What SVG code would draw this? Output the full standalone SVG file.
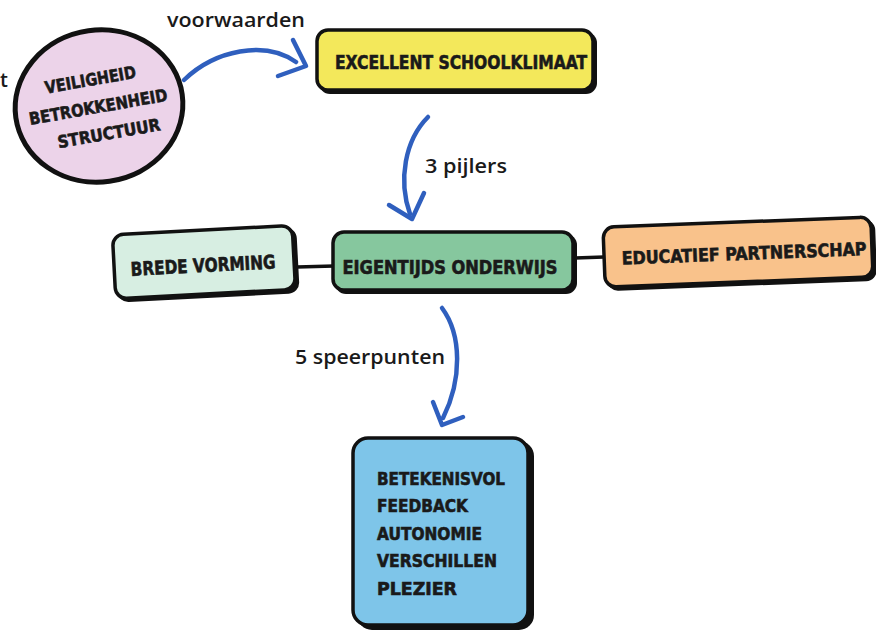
<svg xmlns="http://www.w3.org/2000/svg" width="876" height="632" viewBox="0 0 876 632">
<defs>
<style>
.box{stroke:#111;stroke-width:3.5}
.sh{fill:#111}
.cap{font-family:"DejaVu Sans Condensed","DejaVu Sans","Liberation Sans",sans-serif;font-weight:bold;fill:#1a1a1a;stroke:#1a1a1a;stroke-width:0.6}
.lbl{font-family:"Open Sans","Liberation Sans",sans-serif;font-weight:600;font-size:20px;fill:#1a1a1a}
.arr{fill:none;stroke:#2f5fbe;stroke-width:4.5;stroke-linecap:round;stroke-linejoin:round}
.ln{stroke:#111;stroke-width:3.5}
</style>
</defs>
<rect width="876" height="632" fill="#ffffff"/>
<text class="lbl" x="0" y="87" font-size="22" font-weight="400">t</text>
<g id="connectors">
<line class="ln" x1="297" y1="267" x2="334" y2="266"/>
<line class="ln" x1="575" y1="258" x2="604" y2="257"/>
<path class="arr" d="M184,80 C215,50 265,40 296,62"/>
<path class="arr" d="M293,40 L306,66 L278,76"/>
<text class="lbl" x="167" y="27" textLength="138" lengthAdjust="spacingAndGlyphs">voorwaarden</text>
<path class="arr" d="M428,117 C405,140 398,180 410,214"/>
<path class="arr" d="M389,205 L412,219 L424,193"/>
<text class="lbl" x="425" y="173" textLength="82" lengthAdjust="spacingAndGlyphs">3 pijlers</text>
<path class="arr" d="M442,308 C462,335 462,380 443,418"/>
<path class="arr" d="M433,402 L442,425 L463,417"/>
<text class="lbl" x="295" y="364" textLength="150" lengthAdjust="spacingAndGlyphs">5 speerpunten</text>
</g>
<g id="ellipse">
<ellipse cx="99" cy="106" rx="84" ry="76" transform="rotate(-8 99 106)" fill="#ecd3e9" stroke="#111" stroke-width="5"/>
<g transform="rotate(-10 97 106)">
<text class="cap" x="95" y="85" font-size="17" text-anchor="middle" textLength="92" lengthAdjust="spacingAndGlyphs">VEILIGHEID</text>
<text class="cap" x="98" y="113" font-size="17" text-anchor="middle" textLength="140" lengthAdjust="spacingAndGlyphs">BETROKKENHEID</text>
<text class="cap" x="104" y="141" font-size="17" text-anchor="middle" textLength="104" lengthAdjust="spacingAndGlyphs">STRUCTUUR</text>
</g>
</g>
<g id="excellent">
<rect class="sh" x="319" y="32" width="278" height="62" rx="11"/>
<rect class="box" x="317" y="30" width="276" height="60" rx="11" fill="#f3e85b"/>
<text class="cap" x="461" y="69" font-size="20" text-anchor="middle" textLength="252" lengthAdjust="spacingAndGlyphs">EXCELLENT SCHOOLKLIMAAT</text>
</g>
<g id="brede" transform="rotate(-3 205 263)">
<rect class="sh" x="116" y="232" width="182" height="66" rx="11"/>
<rect class="box" x="114" y="230" width="180" height="64" rx="11" fill="#d7eee2"/>
<text class="cap" x="203" y="272" font-size="19" text-anchor="middle" textLength="145" lengthAdjust="spacingAndGlyphs">BREDE VORMING</text>
</g>
<g id="eigentijds">
<rect class="sh" x="335" y="234" width="242" height="60" rx="11"/>
<rect class="box" x="333" y="232" width="240" height="58" rx="11" fill="#86c79e"/>
<text class="cap" x="450" y="274" font-size="19" text-anchor="middle" textLength="215" lengthAdjust="spacingAndGlyphs">EIGENTIJDS ONDERWIJS</text>
</g>
<g id="educatief" transform="rotate(-2.2 740 252)">
<rect class="sh" x="606" y="224" width="270" height="62" rx="11"/>
<rect class="box" x="604" y="222" width="268" height="60" rx="11" fill="#f9c28b"/>
<text class="cap" x="744" y="260" font-size="18" text-anchor="middle" textLength="245" lengthAdjust="spacingAndGlyphs">EDUCATIEF PARTNERSCHAP</text>
</g>
<g id="speerpunten">
<rect class="sh" x="357" y="441" width="177" height="189" rx="15"/>
<rect class="box" x="353" y="438" width="175" height="187" rx="15" fill="#7ec5e9"/>
<text class="cap" x="377" y="485" font-size="18" textLength="128" lengthAdjust="spacingAndGlyphs">BETEKENISVOL</text>
<text class="cap" x="377" y="512" font-size="18" textLength="91" lengthAdjust="spacingAndGlyphs">FEEDBACK</text>
<text class="cap" x="377" y="540" font-size="18" textLength="105" lengthAdjust="spacingAndGlyphs">AUTONOMIE</text>
<text class="cap" x="377" y="567" font-size="18" textLength="120" lengthAdjust="spacingAndGlyphs">VERSCHILLEN</text>
<text class="cap" x="377" y="595" font-size="18" textLength="80" lengthAdjust="spacingAndGlyphs">PLEZIER</text>
</g>
</svg>
